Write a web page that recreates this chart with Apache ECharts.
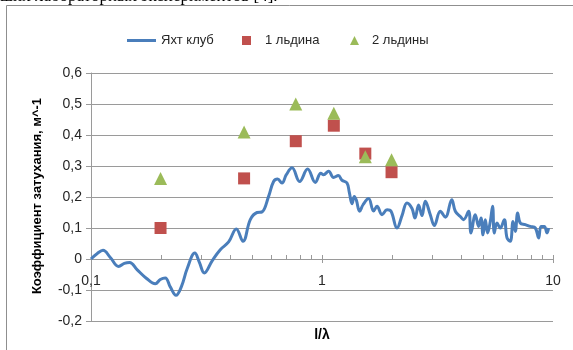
<!DOCTYPE html>
<html>
<head>
<meta charset="utf-8">
<script src="https://cdn.jsdelivr.net/npm/echarts@6/dist/echarts.min.js"></script>
<style>
  html, body { margin: 0; padding: 0; background: #ffffff; }
  #chart { width: 573px; height: 350px; }
</style>
</head>
<body>
<div id="chart"></div>
<script>
// Measured attenuation at the yacht club site, l/λ vs coefficient (m^-1)
const yachtX = [
  0.1, 0.1065, 0.1127, 0.1212, 0.1317, 0.1394, 0.1469, 0.1586, 0.1735, 0.1898,
  0.1995, 0.2097, 0.2204, 0.2333, 0.246, 0.2612, 0.2815, 0.2943, 0.3094, 0.335,
  0.3628, 0.3943, 0.4256, 0.455, 0.4893, 0.5232, 0.55, 0.5873, 0.6173, 0.6424,
  0.6711, 0.7007, 0.7417, 0.7998, 0.8665, 0.9354, 0.988, 1.016, 1.068, 1.123,
  1.177, 1.221, 1.283, 1.313, 1.349, 1.38, 1.408, 1.455, 1.505, 1.591,
  1.672, 1.73, 1.819, 1.912, 1.99, 2.112, 2.22, 2.333, 2.453, 2.527,
  2.619, 2.709, 2.8, 2.943, 3.063, 3.252, 3.419, 3.647, 3.777, 3.97,
  4.102, 4.312, 4.416, 4.61, 4.764, 4.88, 4.977, 5.093, 5.211, 5.353,
  5.477, 5.571, 5.723, 5.914, 6.155, 6.323, 6.535, 6.713, 6.869, 7.029,
  7.22, 7.59, 7.977, 8.385, 8.666, 8.876, 9.171, 9.419, 9.572
];
const yachtY = [
  0.0, 0.018, 0.028, 0.005, -0.024, -0.014, -0.011, -0.035, -0.062, -0.08,
  -0.066, -0.061, -0.09, -0.117, -0.09, -0.03, 0.019, -0.01, -0.045, -0.005,
  0.03, 0.055, 0.097, 0.057, 0.127, 0.15, 0.152, 0.202, 0.25, 0.258,
  0.245, 0.272, 0.294, 0.25, 0.29, 0.247, 0.277, 0.272, 0.283, 0.263,
  0.269, 0.254, 0.245, 0.215, 0.178, 0.202, 0.19, 0.154, 0.175, 0.195,
  0.155, 0.17, 0.143, 0.159, 0.154, 0.1, 0.14, 0.181, 0.163, 0.132,
  0.174, 0.14, 0.186, 0.143, 0.108, 0.154, 0.135, 0.191, 0.154, 0.137,
  0.127, 0.154, 0.084, 0.143, 0.105, 0.132, 0.078, 0.127, 0.084, 0.121,
  0.17, 0.084, 0.116, 0.1, 0.127, 0.068, 0.057, 0.121, 0.089, 0.148,
  0.116, 0.111, 0.105, 0.1, 0.068, 0.105, 0.105, 0.084, 0.1
];

// Laboratory runs with ice floes
const floeX = [0.2, 0.46, 0.77, 1.125, 1.54, 2.0];
const oneFloeY = [0.10, 0.26, 0.38, 0.43, 0.34, 0.28];
const twoFloesY = [0.26, 0.41, 0.50, 0.47, 0.33, 0.32];

const seriesNames = ['Яхт клуб', '1 льдина', '2 льдины'];
const xAxisTitle = 'l/λ';
const yAxisTitle = 'Коэффициент затухания, м^-1';
const captionTail = 'ших лабораторных экспериментов [4].';

// Ticks and labels along the log axis (drawn where the axis crosses y = 0)
const majorTickValues = [0.1, 1, 10];
const majorTickLabels = ['0,1', '1', '10'];
const minorTickValues = [0.2, 0.3, 0.4, 0.5, 0.6, 0.7, 0.8, 0.9, 2, 3, 4, 5, 6, 7, 8, 9];

const FONT = '"Liberation Sans", Arial, sans-serif';
const GRID_GRAY = '#9a9a9a';
const TEXT = '#262626';

const zip = (xs, ys) => xs.map((x, i) => [x, ys[i]]);

function fmtComma(v) {
  if (Math.abs(v) < 1e-9) return '0';
  return (+v.toFixed(1)).toString().replace('.', ',');
}

function tickRenderer(up, down) {
  return function (params, api) {
    const p = api.coord([api.value(0), 0]);
    const x = Math.round(p[0]) + 0.5;
    const y = Math.round(p[1]);
    return {
      type: 'line',
      shape: { x1: x, y1: y - up, x2: x, y2: y + down },
      style: { stroke: GRID_GRAY, lineWidth: 1 }
    };
  };
}

function tickLabelRenderer(params, api) {
  const p = api.coord([api.value(0), 0]);
  return {
    type: 'text',
    x: p[0],
    y: p[1] + 22,
    style: {
      text: majorTickLabels[params.dataIndex],
      font: '14px ' + FONT,
      fill: TEXT,
      align: 'center',
      verticalAlign: 'middle'
    }
  };
}

const chart = echarts.init(document.getElementById('chart'), null, { renderer: 'canvas' });

chart.setOption({
  animation: false,
  backgroundColor: '#ffffff',
  textStyle: { fontFamily: FONT },
  grid: { left: 91, right: 20, top: 73, bottom: 29, containLabel: false },
  legend: [
    {
      data: [{ name: seriesNames[0], icon: 'rect' }],
      left: 122, top: 29, itemWidth: 29, itemHeight: 3,
      textStyle: { fontFamily: FONT, fontSize: 13, color: TEXT }
    },
    {
      data: [{ name: seriesNames[1], icon: 'rect' }],
      left: 237, top: 29, itemWidth: 9, itemHeight: 9,
      textStyle: { fontFamily: FONT, fontSize: 13, color: TEXT, padding: [0, 0, 0, 9] }
    },
    {
      data: [{ name: seriesNames[2], icon: 'triangle' }],
      left: 345, top: 29, itemWidth: 9, itemHeight: 9,
      textStyle: { fontFamily: FONT, fontSize: 13, color: TEXT, padding: [0, 0, 0, 8] }
    }
  ],
  xAxis: {
    type: 'log',
    logBase: 10,
    min: 0.1,
    max: 10,
    axisLine: { onZero: true, lineStyle: { color: GRID_GRAY, width: 1 } },
    axisTick: { show: false },
    splitLine: { show: false },
    axisLabel: { show: false }
  },
  yAxis: {
    type: 'value',
    min: -0.2,
    max: 0.6,
    interval: 0.1,
    axisLine: { show: true, lineStyle: { color: GRID_GRAY, width: 1 } },
    axisTick: { show: true, inside: false, length: 5, lineStyle: { color: GRID_GRAY } },
    splitLine: { show: true, lineStyle: { color: GRID_GRAY, width: 1 } },
    axisLabel: {
      margin: 9,
      fontSize: 14,
      color: TEXT,
      fontFamily: FONT,
      formatter: fmtComma
    }
  },
  graphic: [
    {
      type: 'line', silent: true,
      shape: { x1: 6.5, y1: 5.5, x2: 573, y2: 5.5 },
      style: { stroke: '#8f8f8f', lineWidth: 1 }
    },
    {
      type: 'line', silent: true,
      shape: { x1: 6.5, y1: 5.5, x2: 6.5, y2: 350 },
      style: { stroke: '#8f8f8f', lineWidth: 1 }
    },
    {
      type: 'text', silent: true, x: 0, y: -3,
      style: {
        text: captionTail,
        font: '17px "Liberation Serif", "Times New Roman", serif',
        fill: '#000000',
        verticalAlign: 'middle',
        align: 'left'
      }
    },
    {
      type: 'text', silent: true, x: 322, y: 335,
      style: {
        text: xAxisTitle,
        font: 'bold 14px ' + FONT,
        fill: '#000000',
        align: 'center',
        verticalAlign: 'middle'
      }
    },
    {
      type: 'text', silent: true, x: 37, y: 196, rotation: Math.PI / 2,
      style: {
        text: yAxisTitle,
        font: 'bold 13px ' + FONT,
        fill: '#000000',
        align: 'center',
        verticalAlign: 'middle'
      }
    }
  ],
  series: [
    {
      name: seriesNames[0],
      type: 'line',
      data: zip(yachtX, yachtY),
      symbol: 'none',
      smooth: 0.4,
      color: '#4a7ebb',
      lineStyle: { color: '#4a7ebb', width: 3 },
      itemStyle: { color: '#4a7ebb' },
      z: 2
    },
    {
      name: seriesNames[1],
      type: 'scatter',
      data: zip(floeX, oneFloeY),
      symbol: 'rect',
      symbolSize: 12,
      itemStyle: { color: '#c0504d', opacity: 1 },
      z: 3
    },
    {
      name: seriesNames[2],
      type: 'scatter',
      data: zip(floeX, twoFloesY),
      symbol: 'triangle',
      symbolSize: 13,
      itemStyle: { color: '#9bbb59', opacity: 1 },
      z: 4
    },
    {
      type: 'custom',
      silent: true,
      data: minorTickValues.map(v => [v, 0]),
      renderItem: tickRenderer(4, 0),
      z: 1
    },
    {
      type: 'custom',
      silent: true,
      data: majorTickValues.map(v => [v, 0]),
      renderItem: tickRenderer(4, 4),
      z: 1
    },
    {
      type: 'custom',
      silent: true,
      data: majorTickValues.map(v => [v, 0]),
      renderItem: tickLabelRenderer,
      z: 1
    }
  ]
});
</script>
</body>
</html>
